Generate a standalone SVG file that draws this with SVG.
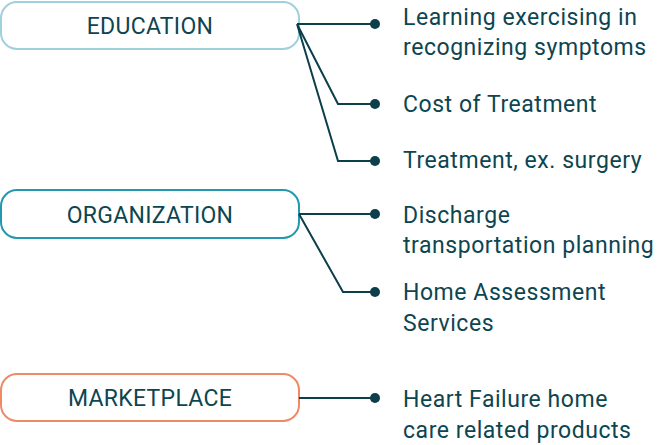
<svg xmlns="http://www.w3.org/2000/svg" width="658" height="445" viewBox="0 0 658 445">
<style>
.box{fill:#fff;stroke-width:2}
.bl{font-family:Roboto,"Liberation Sans",sans-serif;font-size:23px;letter-spacing:0.3px;fill:#0d4550;text-anchor:middle}
.t{font-family:Roboto,"Liberation Sans",sans-serif;font-size:23px;letter-spacing:0.55px;fill:#0d4550}
.c{fill:none;stroke:#0b3f4a;stroke-width:2}
.d{fill:#0b3f4a}
</style>
<rect width="658" height="445" fill="#fff"/>
<g id="education">
<rect class="box" x="1" y="2" width="298" height="47" rx="16" stroke="#9fd0dc"/>
<text class="bl" x="150" y="34">EDUCATION</text>
</g>
<g id="organization">
<rect class="box" x="1" y="190" width="298" height="48" rx="16" stroke="#2497b1"/>
<text class="bl" x="150" y="223">ORGANIZATION</text>
</g>
<g id="marketplace">
<rect class="box" x="1" y="374" width="298" height="47" rx="16" stroke="#ef8a67"/>
<text class="bl" x="150" y="406">MARKETPLACE</text>
</g>
<g id="leaf1"><text class="t" x="403" y="25">Learning exercising in</text><text class="t" x="403" y="55">recognizing symptoms</text></g>
<g id="leaf2"><text class="t" x="403" y="112">Cost of Treatment</text></g>
<g id="leaf3"><text class="t" x="403" y="168">Treatment, ex. surgery</text></g>
<g id="leaf4"><text class="t" x="403" y="223">Discharge</text><text class="t" x="403" y="253">transportation planning</text></g>
<g id="leaf5"><text class="t" x="403" y="300">Home Assessment</text><text class="t" x="403" y="331">Services</text></g>
<g id="leaf6"><text class="t" x="403" y="407">Heart Failure home</text><text class="t" x="403" y="438">care related products</text></g>
<g id="connectors">
<path class="c" d="M297 24H375M297 24L338 104H375M297 24L338 161H375"/>
<path class="c" d="M299 214H375M299 214L343 292H375"/>
<path class="c" d="M299 398H375"/>
<circle class="d" cx="375" cy="24" r="5"/>
<circle class="d" cx="375" cy="104" r="5"/>
<circle class="d" cx="375" cy="161" r="5"/>
<circle class="d" cx="375" cy="214" r="5"/>
<circle class="d" cx="375" cy="292" r="5"/>
<circle class="d" cx="375" cy="398" r="5"/>
</g>
</svg>
